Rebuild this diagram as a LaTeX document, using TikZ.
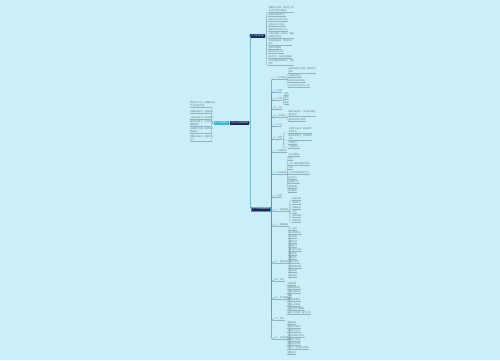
\documentclass[tikz,border=0pt]{standalone}
\usepackage{fontspec}
\newfontfamily\cjk{Noto Sans CJK SC}
\definecolor{bg}{HTML}{CBEFF8}
\definecolor{navy}{HTML}{16275A}
\definecolor{cyanbox}{HTML}{3BB4D8}
\definecolor{trunk}{HTML}{4A9CC4}
\definecolor{leafline}{HTML}{8FB5C4}
\definecolor{leaftext}{HTML}{66767C}
\tikzset{
 base/.style={font=\cjk\fontsize{2.1}{2.6}\selectfont, inner sep=0.3pt},
 box/.style={base, fill=navy, text=white, minimum height=4.5pt, inner xsep=1pt},
 leaf/.style={base, text=leaftext, anchor=south west, align=left},
 lab/.style={base, text=leaftext, anchor=south west},
 conn/.style={draw=trunk, line width=0.7pt, rounded corners=1pt},
 thin/.style={draw=leafline, line width=0.35pt, rounded corners=0.8pt},
 uline/.style={draw=leafline, line width=0.35pt},
}
\begin{document}
\begin{tikzpicture}[x=1pt,y=-1pt]
\fill[bg] (0,0) rectangle (500,360);
% root
\node[box, minimum width=17pt] (root) at (239.5,123) {学习计划思维导图};
% left branch
\node[box, fill=cyanbox, minimum width=15pt] (lb) at (221,123) {学习计划范文};
\draw[conn] (root.west) -- (lb.east);
\foreach \y/\t/\n in {107/{制定学习计划，明确每天的\\学习任务和目标}/a1,
  113/{合理安排时间，劳逸结合}/a2,
  119/{上课认真听讲，做好笔记}/a3,
  126/{课后及时复习，完成作业\\整理错题}/a4,
  133/{多读课外书籍，拓宽知识\\提高能力}/a5,
  141/{定期总结反思，调整学习\\方法}/a6}{
  \node[leaf, anchor=south east, text width=21pt] (\n) at (211.5,\y) {\t};
  \draw[uline] (\n.south west) -- (\n.south east);
  \draw[thin] (lb.west) -- ++(-1.5,0) |- (\n.south east);
}
% trunk to top and bottom branch
\node[box, minimum width=15pt] (T) at (257.5,36) {学习目标内容};
\node[box, fill=navy, draw=trunk, line width=0.4pt, minimum width=17pt] (B) at (261,209) {学习计划具体安排};
\draw[conn] (root.east) -- ++(1.5,0) |- (T.west);
\draw[conn] (root.east) -- ++(1.5,0) |- (B.west);
% top branch children
\foreach \y/\t/\n in {12/{明确学习目标，制定可行的\\学习计划并严格执行}/t1,
  16/{提高各科成绩水平}/t2,
  21/{养成良好的学习习惯}/t3,
  26/{培养自主学习能力}/t4,
  31/{掌握科学的学习方法}/t5,
  38/{认真对待每一次考试，查漏\\补缺及时总结}/t6,
  45/{坚持每天阅读，积累好词\\好句}/t7,
  49/{加强体育锻炼}/t8,
  53/{保持良好的心态}/t9,
  58/{按时作息，保证充足睡眠}/t10,
  65/{主动请教老师和同学，不懂\\就问}/t11}{
  \node[leaf] (\n) at (268,\y) {\t};
  \draw[uline] (\n.south west) -- (\n.south east);
  \draw[thin] (T.east) -- ++(1.2,0) |- (\n.south west);
}
% bottom branch labels
\foreach \y/\t/\n in {79/{一、学习目标}/L1, 92/{二、时间}/L2, 100/{三、科目}/L3,
  109/{四、方法}/L4, 117/{五、预习复习}/L5, 126/{六、作业}/L6,
  139/{七、课堂}/L7, 152/{八、阅读安排}/L8, 174/{九、每日安排}/L9,
  197/{十、周末}/L10, 211/{十一、内容安排}/L11, 226/{十二、假期安排}/L12,
  263/{十三、每周计划}/L13, 281/{十四、考试}/L14, 299/{十五、学习要求}/L15,
  320/{十六、反思}/L16, 339/{十七、总结改进}/L17}{
  \node[lab] (\n) at (273,\y) {\t};
  \draw[uline] (\n.south west) -- (\n.south east);
  \draw[conn, line width=0.6pt] (B.east) -- ++(1,0) |- (\n.south west);
}
% group children
\foreach \y/\t/\n in {73/{按时完成学习任务，提高学习\\效率}/c1, 77/{认真完成作业}/c2, 82/{积极参加课外活动}/c3, 87/{多与同学交流学习心得}/c4}{
  \node[leaf] (\n) at (288,\y) {\t};
  \draw[uline] (\n.south west) -- (\n.south east);
  \draw[thin] (L1.south east) -- ++(1.2,0) |- (\n.south west);
}
\foreach \y/\t/\n in {95/{语文}/d1, 99/{数学}/d2, 104/{英语}/d3}{
  \node[leaf] (\n) at (284,\y) {\t};
  \draw[uline] (\n.south west) -- (\n.south east);
  \draw[thin] (L3.south east) -- ++(1.2,0) |- (\n.south west);
}
\foreach \y/\t/\n in {116/{课前认真预习，找出重点难点\\做好标记}/e1, 121/{课后及时复习巩固}/e2}{
  \node[leaf] (\n) at (288,\y) {\t};
  \draw[uline] (\n.south west) -- (\n.south east);
  \draw[thin] (L5.south east) -- ++(1.2,0) |- (\n.south west);
}
\foreach \y/\t/\n in {133/{上课专心听讲，积极思考\\主动发言}/f1, 140/{做好课堂笔记，及时整理\\归纳}/f2, 144/{不懂就问}/f3, 148/{认真做练习}/f4}{
  \node[leaf] (\n) at (288,\y) {\t};
  \draw[uline] (\n.south west) -- (\n.south east);
  \draw[thin] (L7.south east) -- ++(1.2,0) |- (\n.south west);
}
\foreach \y/\t/\n in {156/{早上读英语}/g1, 160/{预习}/g2, 165/{上午认真听课做好笔记}/g3, 169/{午休}/g4, 174/{下午完成作业及时订正}/g5, 179/{晚上复习}/g6, 183/{阅读课外书}/g7, 188/{整理错题}/g8, 192/{按时睡觉}/g9}{
  \node[leaf] (\n) at (288,\y) {\t};
  \draw[uline] (\n.south west) -- (\n.south east);
  \draw[thin] (L9.south east) -- ++(1.2,0) |- (\n.south west);
}
\foreach \y/\t/\n in {200/{语文阅读}/h1, 204/{数学练习}/h2, 209/{英语单词}/h3, 213/{科学}/h4, 217/{课外阅读}/h5, 222/{体育锻炼}/h6}{
  \node[leaf] (\n) at (292,\y) {\t};
  \draw[uline] (\n.south west) -- (\n.south east);
  \draw[thin] (L11.south east) -- ++(1.2,0) |- (\n.south west);
}
\foreach \y/\t/\n in {230/{周一语文}/i1, 234/{周二数学练习}/i2, 238/{周三英语}/i3, 243/{周四阅读}/i4, 247/{周五复习}/i5, 251/{周六课外活动}/i6, 255/{周日休息}/i7, 259/{每天练字}/i8, 263/{每天背单词}/i9, 268/{每天做数学题}/i10, 272/{每周总结}/i11, 277/{每月测试}/i12}{
  \node[leaf] (\n) at (288,\y) {\t};
  \draw[uline] (\n.south west) -- (\n.south east);
  \draw[thin] (L13.south east) -- ++(1.2,0) |- (\n.south west);
}
\foreach \y/\t/\n in {285/{认真审题}/j1, 289/{仔细答题检查}/j2, 293/{合理分配时间}/j3, 297/{字迹}/j4, 301/{保持卷面整洁}/j5, 306/{考后分析试卷}/j6, 310/{总结经验不断提高}/j7, 314/{端正学习态度，持之以恒}/j8}{
  \node[leaf] (\n) at (287,\y) {\t};
  \draw[uline] (\n.south west) -- (\n.south east);
  \draw[thin] (L15.south east) -- ++(1.2,0) |- (\n.south west);
}
\foreach \y/\t/\n in {324/{查漏补缺}/k1, 328/{及时改正错误}/k2, 332/{总结学习方法}/k3, 337/{坚持不懈努力学习}/k4, 341/{提高学习效率}/k5, 345/{养成良好习惯}/k6, 349/{制定下一阶段学习目标}/k7, 354/{不断进步}/k8}{
  \node[leaf] (\n) at (287,\y) {\t};
  \draw[uline] (\n.south west) -- (\n.south east);
  \draw[thin] (L17.south east) -- ++(1.2,0) |- (\n.south west);
}
\end{tikzpicture}
\end{document}
